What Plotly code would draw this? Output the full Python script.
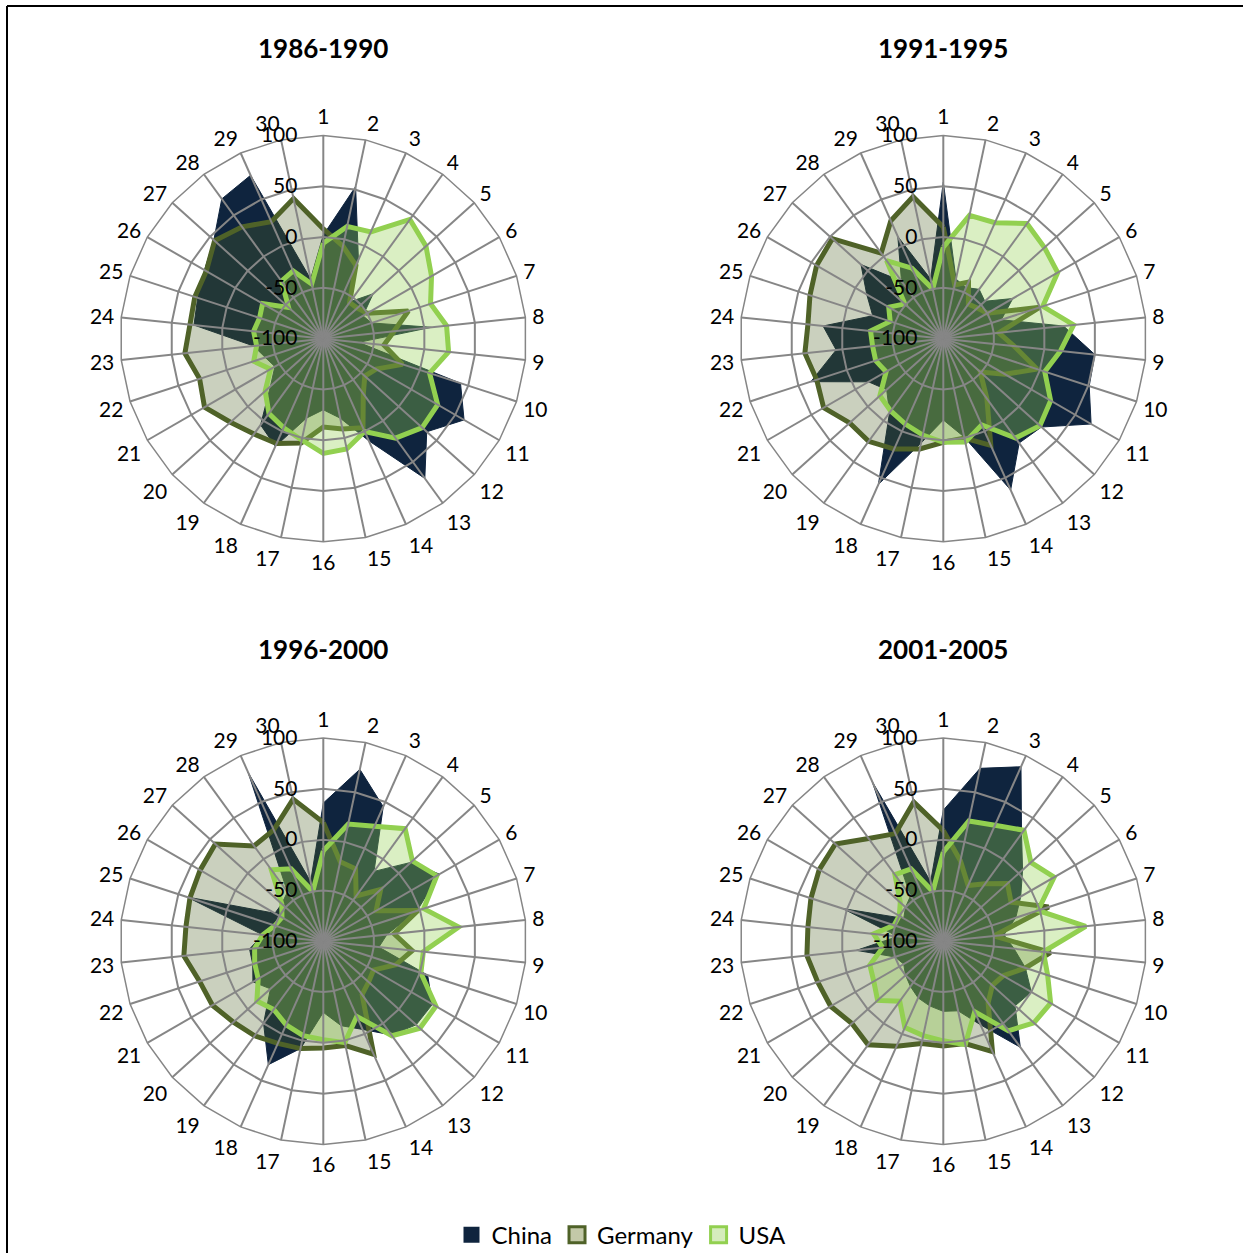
import plotly.graph_objects as go

# ---- data -------------------------------------------------------------
categories = [str(i) for i in range(1, 31)]
periods = ["1986-1990", "1991-1995", "1996-2000", "2001-2005"]
series_names = ["China", "Germany", "USA"]
radial_ticks = [-100, -50, 0, 50, 100]
radial_tick_labels = ["-100", "-50", "0", "50", "100"]

china_1986 = [2, 53, -15, -55, -34, -55, -50, 7, -65, 42, 60, 37, 70, 10, -20,
              -30, -20, 16, 5, -30, -45, -40, -31, 28, 30, 35, 45, 70, 76, -40]
germany_1986 = [8, -7, -21, -56, -55, -50, -12, -30, -40, -18, -40, -45, -33, -4, -9,
                -13, 5, 13, 16, 23, 35, 28, 37, 32, 33, 33, 44, 36, 26, 41]
usa_1986 = [-6, 13, 15, 45, 36, 23, 11, 22, 24, 10, 30, 31, 21, 0, 11,
            13, 2, -4, -9, -23, -40, -28, -34, -31, -34, -31, -54, -30, -27, -45]

china_1991 = [54, -40, -45, -40, -45, -21, -40, 19, 50, 51, 68, 30, 27, 63, -1,
              -20, 5, 57, -10, -25, -15, 37, 6, 19, -27, -13, 9, -30, 10, -40]
germany_1991 = [10, -46, -39, -58, -55, -50, 0, -45, -30, -3, -30, -51, -27, 15, 0,
                2, 11, 19, 25, 24, 36, 31, 37, 34, 38, 44, 47, 4, 27, 43]
usa_1991 = [-10, 24, 25, 40, 34, 30, 3, 29, 16, 5, 22, 28, 21, -7, 4,
            2, -3, -8, -12, -16, -35, -30, -30, -28, -45, -38, -49, -5, -24, -50]

china_1996 = [36, 73, 45, -15, 16, 32, -3, -37, -45, 8, 24, 23, 14, -5, -15,
              -30, 8, 33, 0, -30, -20, -27, -27, -40, 41, -45, -45, -40, 82, -40]
germany_1996 = [17, -20, -22, -45, -24, -40, -2, -30, -12, -25, -43, -40, -35, 22, 5,
                5, 8, 10, 15, 19, 26, 28, 38, 36, 38, 40, 43, 16, 20, 43]
usa_1996 = [-11, 18, 24, 37, 18, 29, 4, 34, -1, 1, 28, 28, 15, -19, 2,
            -3, -5, -10, -17, -12, -26, -29, -32, -40, -50, -53, -45, -13, -22, -50]

china_2001 = [29, 74, 88, 31, 5, -12, -25, -40, -30, -15, 0, -5, 29, -10, -30,
              -31, -35, -39, -45, -50, -55, -50, -14, -55, 4, -55, -50, -45, 72, -40]
germany_2001 = [9, -19, -40, -30, -15, -23, 9, -50, 6, -15, -32, -35, -25, 19, 3,
                3, 3, 13, 26, 21, 28, 30, 35, 34, 37, 41, 43, 25, 16, 40]
usa_2001 = [-12, 21, 25, 35, 16, 26, -2, 41, -1, 8, 22, 20, 9, -24, 4,
            -2, -5, -7, -27, -13, -21, -24, -40, -31, -49, -50, -43, -19, -22, -50]

china = [china_1986, china_1991, china_1996, china_2001]
germany = [germany_1986, germany_1991, germany_1996, germany_2001]
usa = [usa_1986, usa_1991, usa_1996, usa_2001]

# ---- styling ----------------------------------------------------------
W, H = 1243, 1258
FONT = "Lato"
GRID = "#868686"
NAVY = "#0F243E"
OLIVE = "#4F6228"
LIME = "#92D050"
OLIVE_FILL = "rgba(79,98,40,0.30)"
LIME_FILL = "rgba(146,208,80,0.34)"

centers = [(323.3, 340), (943.3, 340), (323.3, 945), (943.3, 945)]
title_y = [48, 48, 652, 652]
R = 204


def closed(vals):
    return list(vals) + [vals[0]]


theta_closed = categories + [categories[0]]

fig = go.Figure()
layout = dict(
    width=W, height=H,
    margin=dict(l=0, r=0, t=0, b=0),
    paper_bgcolor="white",
    plot_bgcolor="white",
    font=dict(family=FONT, color="black"),
    showlegend=True,
)

annotations = []
for i, (cx, cy) in enumerate(centers):
    dom = dict(
        x=[(cx - R) / W, (cx + R) / W],
        y=[1 - (cy + R) / H, 1 - (cy - R) / H],
    )
    data_key = "polar" if i == 0 else f"polar{i + 1}"
    grid_key = f"polar{i + 5}"
    data_ref = "polar" if i == 0 else f"polar{i + 1}"

    # data layer (no axes drawn here)
    layout[data_key] = dict(
        domain=dom,
        bgcolor="rgba(0,0,0,0)",
        gridshape="linear",
        radialaxis=dict(range=[-100, 100], showgrid=False, showticklabels=False,
                        showline=False, ticks=""),
        angularaxis=dict(type="category", categoryorder="array",
                         categoryarray=categories, direction="clockwise",
                         rotation=90, showgrid=False, showticklabels=False,
                         showline=False, ticks=""),
    )
    # grid layer drawn above the series
    layout[grid_key] = dict(
        domain=dom,
        bgcolor="rgba(0,0,0,0)",
        gridshape="linear",
        radialaxis=dict(range=[-100, 100], tickmode="array",
                        tickvals=radial_ticks, ticktext=radial_tick_labels,
                        showline=False, gridcolor=GRID, gridwidth=1.5,
                        angle=90, tickangle=90, side="counterclockwise",
                        ticks="outside", ticklen=18, tickcolor="rgba(0,0,0,0)",
                        tickfont=dict(family=FONT, size=21, color="black")),
        angularaxis=dict(type="category", categoryorder="array",
                         categoryarray=categories, direction="clockwise",
                         rotation=90, gridcolor=GRID, gridwidth=1.5,
                         showline=True, linecolor=GRID, linewidth=1.5,
                         ticks="outside", ticklen=2, tickcolor="rgba(0,0,0,0)",
                         tickfont=dict(family=FONT, size=21, color="black")),
    )

    fig.add_trace(go.Scatterpolar(
        r=closed(china[i]), theta=theta_closed, subplot=data_ref,
        mode="lines", fill="toself", fillcolor=NAVY,
        line=dict(color=NAVY, width=1), name="China", showlegend=False,
        hoverinfo="skip"))
    fig.add_trace(go.Scatterpolar(
        r=closed(germany[i]), theta=theta_closed, subplot=data_ref,
        mode="lines", fill="toself", fillcolor=OLIVE_FILL,
        line=dict(color=OLIVE, width=5), name="Germany", showlegend=False,
        hoverinfo="skip"))
    fig.add_trace(go.Scatterpolar(
        r=closed(usa[i]), theta=theta_closed, subplot=data_ref,
        mode="lines", fill="toself", fillcolor=LIME_FILL,
        line=dict(color=LIME, width=5), name="USA", showlegend=False,
        hoverinfo="skip"))
    # invisible trace so the grid subplot spans all 30 categories
    fig.add_trace(go.Scatterpolar(
        r=[-100] * len(categories), theta=categories, subplot=grid_key,
        mode="lines", line=dict(width=0, color="rgba(0,0,0,0)"),
        showlegend=False, hoverinfo="skip"))

    annotations.append(dict(
        text=f"<b>{periods[i]}</b>", x=cx / W, y=1 - title_y[i] / H,
        xref="paper", yref="paper", xanchor="center", yanchor="middle",
        showarrow=False, font=dict(family=FONT, size=26, color="black")))

# legend swatches
legend_styles = [
    dict(color=NAVY, line=dict(color=NAVY, width=0)),
    dict(color="#c3c9a8", line=dict(color=OLIVE, width=3)),
    dict(color="#d5ecbc", line=dict(color=LIME, width=3)),
]
for name, mk in zip(series_names, legend_styles):
    fig.add_trace(go.Scatterpolar(
        r=[None], theta=[None], subplot="polar", mode="markers", name=name,
        marker=dict(symbol="square", size=22, **mk), showlegend=True))

layout["legend"] = dict(
    orientation="h", x=0.5, xanchor="center", y=1 - 1240 / H, yanchor="middle",
    font=dict(family=FONT, size=24, color="black"), bgcolor="rgba(0,0,0,0)",
    itemwidth=30,
)
layout["annotations"] = annotations

# outer frame (top and left edges are inside the page)
layout["shapes"] = [
    dict(type="line", xref="paper", yref="paper", x0=7 / W, x1=1, y0=1 - 6 / H,
         y1=1 - 6 / H, line=dict(color="black", width=2)),
    dict(type="line", xref="paper", yref="paper", x0=7 / W, x1=7 / W, y0=0,
         y1=1 - 6 / H, line=dict(color="black", width=2)),
]

fig.update_layout(**layout)
fig.write_html("out.html")
